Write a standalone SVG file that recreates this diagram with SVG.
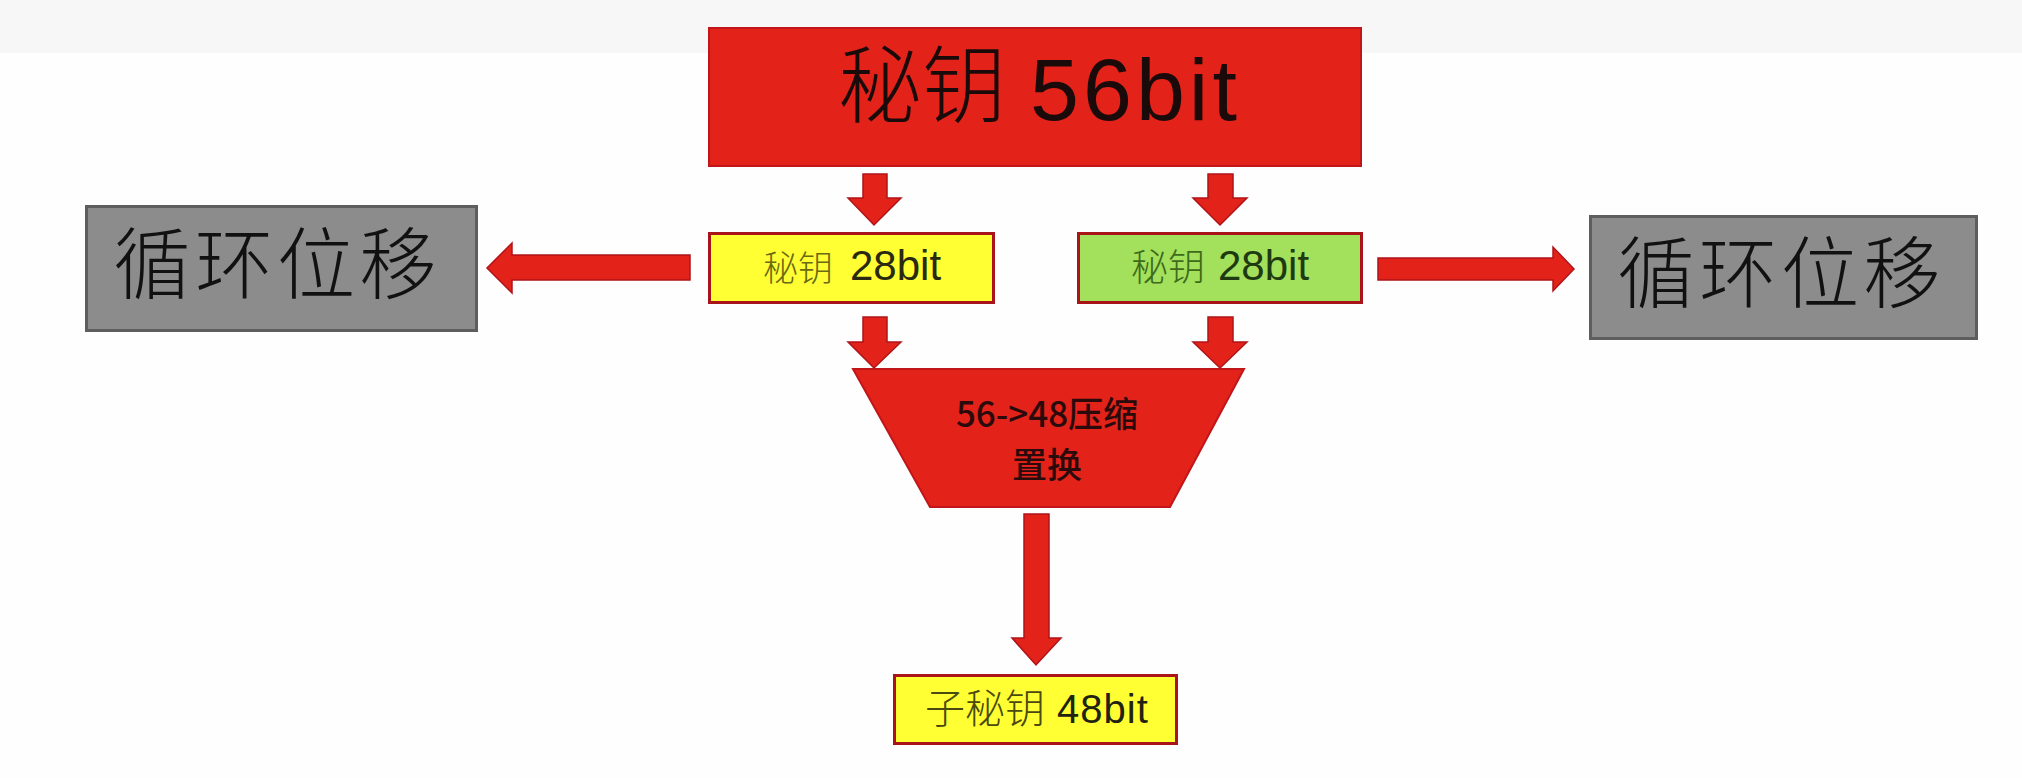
<svg xmlns="http://www.w3.org/2000/svg" width="2022" height="778" viewBox="0 0 2022 778">
<style>
.bg{fill:#fefefe}
.band{fill:#f7f7f7}
.red{fill:#e3221a;stroke:#c0161a;stroke-width:2}
.yellow{fill:#ffff33;stroke:#a8141a;stroke-width:3}
.green{fill:#a3e05c;stroke:#a8141a;stroke-width:3}
.gray{fill:#8c8c8c;stroke:#5e5e5e;stroke-width:3}
.arrow{fill:#e3221a;stroke:#b01418;stroke-width:1.5;stroke-linejoin:miter}
.cjk{font-family:"Noto Sans CJK SC","Liberation Sans",sans-serif;font-weight:300}
.lat{font-family:"Liberation Sans","Noto Sans CJK SC",sans-serif}
.trap{font-family:"Noto Sans CJK SC","Liberation Sans",sans-serif;font-weight:500;font-size:35px;fill:#2a0a0a;text-anchor:middle}
</style>
<rect class="bg" x="0" y="0" width="2022" height="778"/>
<rect class="band" x="0" y="0" width="2022" height="53"/>

<g id="connectors">
<polygon class="arrow" points="863,174 887,174 887,198 901,198 874,225 848,198 863,198"/>
<polygon class="arrow" points="1208,174 1233,174 1233,198 1247,198 1220,225 1193,198 1208,198"/>
<polygon class="arrow" points="863,317 887,317 887,342 901,342 874,368 848,342 863,342"/>
<polygon class="arrow" points="1208,317 1233,317 1233,342 1247,342 1220,368 1193,342 1208,342"/>
<polygon class="arrow" points="690,255 690,280 512,280 512,293 487,268 512,243 512,255"/>
<polygon class="arrow" points="1378,258 1553,258 1553,247 1574,269 1553,291 1553,280 1378,280"/>
<polygon class="arrow" points="1024,514 1049,514 1049,638 1061,638 1036,665 1012,638 1024,638"/>
</g>

<g id="key56">
<rect class="red" x="709" y="28" width="652" height="138"/>
<text fill="#1a0a0a"><tspan class="cjk" x="838" y="116" font-size="84">秘钥</tspan><tspan class="lat" x="1030" y="120" font-size="88" letter-spacing="4">56bit</tspan></text>
</g>

<g id="keyLeft28">
<rect class="yellow" x="709.5" y="233.5" width="284" height="69"/>
<text><tspan class="cjk" x="763" y="281" font-size="35" fill="#6a6a14">秘钥</tspan><tspan class="lat" x="850" y="280" font-size="42" fill="#2a2a10">28bit</tspan></text>
</g>

<g id="keyRight28">
<rect class="green" x="1078.5" y="233.5" width="283" height="69"/>
<text><tspan class="cjk" x="1131" y="281" font-size="37" fill="#3e6a1a">秘钥</tspan><tspan class="lat" x="1218" y="280" font-size="42" fill="#1e3a10">28bit</tspan></text>
</g>

<g id="shiftLeft">
<rect class="gray" x="86.5" y="206.5" width="390" height="124"/>
<text class="cjk" x="277" y="293" font-size="78" letter-spacing="4" text-anchor="middle" fill="#111">循环位移</text>
</g>

<g id="shiftRight">
<rect class="gray" x="1590.5" y="216.5" width="386" height="122"/>
<text class="cjk" x="1781" y="302" font-size="78" letter-spacing="4" text-anchor="middle" fill="#111">循环位移</text>
</g>

<g id="compress">
<polygon class="red" points="853,369 1244,369 1170,507 930,507"/>
<text class="trap" x="1047" y="427">56-&gt;48压缩</text>
<text class="trap" x="1047" y="478">置换</text>
</g>

<g id="subkey48">
<rect class="yellow" x="894.5" y="675.5" width="282" height="68"/>
<text><tspan class="cjk" x="925" y="723" font-size="40" fill="#4a4a10">子秘钥</tspan><tspan class="lat" x="1057" y="723" font-size="40" letter-spacing="1" fill="#222210">48bit</tspan></text>
</g>
</svg>
